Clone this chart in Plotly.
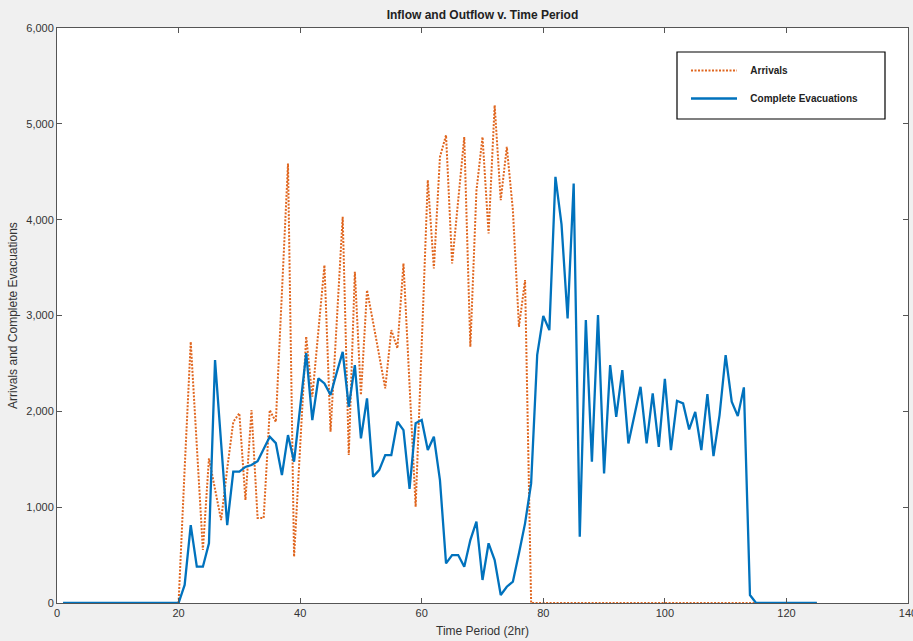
import plotly.graph_objects as go

periods = list(range(1, 126))

arrivals = [0] * 20 + [
    1400, 2725, 1640, 553, 1509, 1190, 866, 1400, 1890, 1980,
    1074, 2013, 887, 887, 2013, 1890, 3200, 4586, 483, 1630,
    2780, 2152, 2840, 3525, 1787, 2900, 4030, 1544, 3456, 2170,
    3265, 2930, 2580, 2239, 2848, 2657, 3543, 2270, 1004, 2700,
    4412, 3491, 4655, 4881, 3543, 4200, 4863, 2673, 4300, 4863,
    3856, 5194, 4203, 4759, 4099, 2882, 3369, 0,
] + [0] * 47

evacuations = [0] * 20 + [
    188, 813, 379, 379, 623, 2534, 1670, 813, 1370, 1370,
    1420, 1440, 1480, 1600, 1735, 1668, 1335, 1752, 1474, 2040,
    2607, 1909, 2343, 2291, 2170, 2400, 2621, 2048, 2482, 1718,
    2135, 1317, 1387, 1544, 1544, 1891, 1804, 1190, 1877, 1909,
    1596, 1735, 1283, 414, 500, 500, 379, 657, 848, 240,
    623, 448, 83, 170, 222, 518, 831, 1248, 2590, 2995,
    2847, 4446, 3950, 2969, 4377, 692, 2952, 1474, 3004, 1353,
    2482, 1943, 2430, 1665, 1960, 2256, 1665, 2187, 1630, 2338,
    1596, 2110, 2083, 1811, 1995, 1596, 2180, 1533, 1961, 2587,
    2100, 1950, 2250, 83,
] + [0] * 11

x_ticks = [0, 20, 40, 60, 80, 100, 120, 140]
y_ticks = [0, 1000, 2000, 3000, 4000, 5000, 6000]

FONT = "Liberation Sans, Arial, sans-serif"
AX = "#555555"
PAD = "&nbsp;&nbsp;&nbsp;"

fig = go.Figure()
fig.add_trace(go.Scatter(
    x=periods, y=arrivals, mode="lines", name=PAD + "<b>Arrivals</b>",
    line=dict(color="#E0661F", width=2, dash="2px,1.5px"), legendgroup="a",
))
fig.add_trace(go.Scatter(
    x=periods, y=evacuations, mode="lines", name=PAD + "<b>Complete Evacuations</b>",
    line=dict(color="#0072BD", width=2.3), legendgroup="b",
))

fig.update_layout(
    width=913, height=641,
    margin=dict(l=57, r=5, t=28, b=38, autoexpand=False),
    paper_bgcolor="#f0f0f0", plot_bgcolor="white",
    font=dict(family=FONT, size=11, color="#333333"),
    title=dict(text="<b>Inflow and Outflow v. Time Period</b>", x=(57 + 908) / 2 / 913, xanchor="center",
               y=1 - 15 / 641, yanchor="middle", font=dict(size=12, color="#222222"),
               automargin=False),
    showlegend=True,
    legend=dict(x=(686 - 57) / 851, y=(603 - 56) / 575, xanchor="left", yanchor="top",
                bgcolor="rgba(0,0,0,0)", borderwidth=0, font=dict(size=10, color="#222222"),
                tracegroupgap=9, itemwidth=46),
    shapes=[dict(type="rect", xref="paper", yref="paper",
                 x0=(677 - 57) / 851, x1=(885 - 57) / 851,
                 y0=(603 - 119) / 575, y1=(603 - 52) / 575,
                 line=dict(color="black", width=1.2), fillcolor="white", layer="below")],
)
fig.update_xaxes(
    range=[0, 140], tickvals=x_ticks, ticktext=[str(v) for v in x_ticks],
    showgrid=False, zeroline=False, showline=True, linecolor=AX, linewidth=1,
    mirror="ticks", ticks="inside", ticklen=5, tickcolor=AX, automargin=False,
    ticklabeloverflow="allow",
    title=dict(text="Time Period (2hr)", standoff=8, font=dict(size=12)),
)
fig.update_yaxes(
    range=[0, 6000], tickvals=y_ticks, tickformat=",d",
    showgrid=False, zeroline=False, showline=True, linecolor=AX, linewidth=1,
    mirror="ticks", ticks="inside", ticklen=5, tickcolor=AX, automargin=False,
    title=dict(text="Arrivals and Complete Evacuations", standoff=6, font=dict(size=12)),
)

fig.write_html(
    "out.html",
    config={"displayModeBar": False},
    post_script="document.body.style.margin='0';document.body.style.background='#f0f0f0';",
)
